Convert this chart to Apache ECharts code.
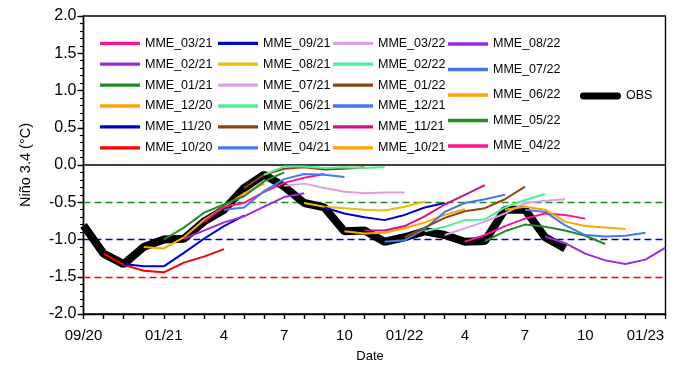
<!DOCTYPE html>
<html>
<head>
<meta charset="utf-8">
<script src="https://cdn.jsdelivr.net/npm/echarts@6/dist/echarts.min.js"></script>
<style>html,body{margin:0;padding:0;background:#fff}#c{width:700px;height:368px}</style>
</head>
<body>
<div id="c"></div>
<script>
// Month categories (x axis) and tick labels
const months = ['09/20','10/20','11/20','12/20','01/21','02/21','03/21','04/21','05/21','06/21','07/21','08/21','09/21','10/21','11/21','12/21','01/22','02/22','03/22','04/22','05/22','06/22','07/22','08/22','09/22','10/22','11/22','12/22','01/23','02/23'];
const tickLabels = {'09/20':'09/20','01/21':'01/21','04/21':'4','07/21':'7','10/21':'10','01/22':'01/22','04/22':'4','07/22':'7','10/22':'10','01/23':'01/23'};

// Observations (start 09/20)
const obs = [-0.81,-1.19,-1.33,-1.10,-1.00,-0.99,-0.76,-0.60,-0.31,-0.13,-0.29,-0.51,-0.57,-0.89,-0.88,-1.03,-0.97,-0.89,-0.94,-1.03,-1.02,-0.60,-0.60,-0.97,-1.12];

// MME forecasts, each starting at its initial month
const m1020 = [-1.19,-1.34,-1.42,-1.44,-1.31,-1.23,-1.13];
const m1120 = [-1.33,-1.36,-1.36,-1.18,-0.99,-0.82,-0.68];
const m1220 = [-1.10,-1.12,-0.97,-0.74,-0.56,-0.38,-0.25];
const m0121 = [-1.00,-0.84,-0.64,-0.53,-0.42,-0.22,-0.10];
const m0221 = [-0.99,-0.88,-0.77,-0.69,-0.56,-0.43,-0.38];
const m0321 = [-0.76,-0.56,-0.51,-0.36,-0.24,-0.17,-0.12];
const m0421 = [-0.60,-0.57,-0.35,-0.19,-0.12,-0.13,-0.16];
const m0521 = [-0.31,-0.13,-0.05,-0.03,-0.06,-0.05,-0.03];
const m0621 = [-0.13,-0.02,-0.02,-0.04,-0.03,-0.04,-0.03];
const m0721 = [-0.28,-0.25,-0.31,-0.36,-0.38,-0.37,-0.37];
const m0821 = [-0.51,-0.56,-0.58,-0.60,-0.61,-0.56,-0.49];
const m0921 = [-0.57,-0.65,-0.70,-0.74,-0.67,-0.57,-0.51];
const m1021 = [-0.89,-0.92,-0.91,-0.85,-0.77,-0.67,-0.59];
const m1121 = [-0.88,-0.88,-0.82,-0.69,-0.53,-0.40,-0.27];
const m1221 = [-1.03,-1.01,-0.86,-0.63,-0.51,-0.46,-0.40];
const m0122 = [-0.97,-0.84,-0.71,-0.62,-0.58,-0.46,-0.29];
const m0222 = [-0.89,-0.83,-0.74,-0.73,-0.57,-0.47,-0.39];
const m0322 = [-0.94,-0.85,-0.76,-0.65,-0.51,-0.48,-0.46];
const m0422 = [-1.03,-0.94,-0.82,-0.72,-0.65,-0.67,-0.72];
const m0522 = [-1.02,-0.89,-0.80,-0.83,-0.88,-0.95,-1.06];
const m0622 = [-0.60,-0.56,-0.60,-0.76,-0.82,-0.84,-0.86];
const m0722 = [-0.60,-0.63,-0.81,-0.94,-0.96,-0.95,-0.91];
const m0822 = [-0.96,-1.05,-1.19,-1.28,-1.33,-1.27,-1.11];

const mmeNames  = ['MME_10/20','MME_11/20','MME_12/20','MME_01/21','MME_02/21','MME_03/21','MME_04/21','MME_05/21','MME_06/21','MME_07/21','MME_08/21','MME_09/21','MME_10/21','MME_11/21','MME_12/21','MME_01/22','MME_02/22','MME_03/22','MME_04/22','MME_05/22','MME_06/22','MME_07/22','MME_08/22'];
const mmeStart  = ['10/20','11/20','12/20','01/21','02/21','03/21','04/21','05/21','06/21','07/21','08/21','09/21','10/21','11/21','12/21','01/22','02/22','03/22','04/22','05/22','06/22','07/22','08/22'];
const mmeValues = [m1020,m1120,m1220,m0121,m0221,m0321,m0421,m0521,m0621,m0721,m0821,m0921,m1021,m1121,m1221,m0122,m0222,m0322,m0422,m0522,m0622,m0722,m0822];
const mmeColors = ['#FF0000','#0000CD','#FFA500','#228B22','#9A2BE0','#FF1493','#4878F0','#8B4513','#4EEE94','#DDA0DD','#E8C000','#0000CD','#FFA500','#C71585','#4878F0','#8B4513','#4EEE94','#DDA0DD','#FF1493','#228B22','#FFA500','#4878F0','#9A2BE0'];

const legendCols = [
  ['MME_03/21','MME_02/21','MME_01/21','MME_12/20','MME_11/20','MME_10/20'],
  ['MME_09/21','MME_08/21','MME_07/21','MME_06/21','MME_05/21','MME_04/21'],
  ['MME_03/22','MME_02/22','MME_01/22','MME_12/21','MME_11/21','MME_10/21'],
  ['MME_08/22','MME_07/22','MME_06/22','MME_05/22','MME_04/22']
];

const FONT = 'Liberation Sans, Arial, Helvetica, sans-serif';

function toPairs(startMonth, vals) {
  const s = months.indexOf(startMonth);
  return vals.map((v, k) => [months[s + k], v]);
}

const series = [];
series.push({
  name: 'ref', type: 'line', data: [], silent: true, z: 1,
  markLine: {
    silent: true, symbol: 'none', z: 1, label: {show: false}, animation: false,
    data: [
      {yAxis: 0, lineStyle: {color: '#000', width: 1.6, type: 'solid'}},
      {yAxis: -0.5, lineStyle: {color: '#228B22', width: 1.4, type: [7, 4]}},
      {yAxis: -1.0, lineStyle: {color: '#0000CD', width: 1.4, type: [7, 4]}},
      {yAxis: -1.5, lineStyle: {color: '#FF0000', width: 1.4, type: [7, 4]}}
    ]
  }
});
series.push({
  name: 'OBS', type: 'line', showSymbol: false, z: 2,
  data: toPairs('09/20', obs),
  color: '#000',
  lineStyle: {color: '#000', width: 8},
  itemStyle: {color: '#000'}
});
mmeNames.forEach((n, k) => {
  series.push({
    name: n, type: 'line', showSymbol: false, z: 3,
    data: toPairs(mmeStart[k], mmeValues[k]),
    color: mmeColors[k],
    lineStyle: {color: mmeColors[k], width: 2},
    itemStyle: {color: mmeColors[k]}
  });
});

const legendLefts = [100, 218, 333, 448];
const legendTops = [36.3, 36.3, 36.3, 37];
const legendGaps = [6.9, 6.9, 6.9, 11.5];
const legends = legendCols.map((col, k) => ({
  data: col, orient: 'vertical', left: legendLefts[k], top: legendTops[k],
  padding: 0, itemGap: legendGaps[k], itemWidth: 40, itemHeight: 3.3, icon: 'rect',
  selectedMode: false,
  textStyle: {fontFamily: FONT, fontSize: 12.5, color: '#000', lineHeight: 14}
}));
legends.push({
  data: [{name: 'OBS', icon: 'path://M3.5,0 L38.5,0 A3.5,3.5 0 0 1 38.5,7 L3.5,7 A3.5,3.5 0 0 1 3.5,0 Z'}],
  orient: 'vertical', left: 580, top: 89, padding: 0, itemWidth: 41, itemHeight: 7,
  selectedMode: false,
  textStyle: {fontFamily: FONT, fontSize: 12.5, color: '#000', lineHeight: 14}
});

const option = {
  animation: false,
  backgroundColor: '#fff',
  textStyle: {fontFamily: FONT},
  grid: {left: 83.5, right: 34.5, top: 16, bottom: 54, show: true, borderColor: '#000', borderWidth: 1.4, backgroundColor: 'transparent'},
  legend: legends,
  xAxis: {
    type: 'category', data: months, boundaryGap: false,
    name: 'Date', nameLocation: 'middle', nameGap: 36,
    nameTextStyle: {fontFamily: FONT, fontSize: 13, color: '#000', padding: [0, 9, 0, 0]},
    axisLine: {show: true, onZero: false, lineStyle: {color: '#000', width: 1.4}},
    axisTick: {show: true, interval: 0, inside: false, length: 5, lineStyle: {color: '#000', width: 1.4}},
    axisLabel: {interval: 0, margin: 14, fontFamily: FONT, fontSize: 15, color: '#000',
      formatter: v => tickLabels[v] || ''},
    splitLine: {show: false}
  },
  yAxis: [{
    type: 'value', min: -2, max: 2, interval: 0.5,
    name: 'Niño 3.4 (°C)', nameLocation: 'middle', nameGap: 50,
    nameTextStyle: {fontFamily: FONT, fontSize: 14.5, color: '#000'},
    axisLine: {show: true, onZero: false, lineStyle: {color: '#000', width: 1.4}},
    axisTick: {show: true, inside: false, length: 6, lineStyle: {color: '#000', width: 1.4}},
    axisLabel: {margin: 7, fontFamily: FONT, fontSize: 16, color: '#000', formatter: v => v.toFixed(1)},
    splitLine: {show: false}
  }, {
    // minor ticks every 0.1
    type: 'value', min: -2, max: 2, interval: 0.1, position: 'left',
    axisLine: {show: false, onZero: false},
    axisTick: {show: true, inside: false, length: 3.5, lineStyle: {color: '#000', width: 1.1}},
    axisLabel: {show: false},
    splitLine: {show: false}
  }],
  series: series
};

const chart = echarts.init(document.getElementById('c'), null, {renderer: 'canvas'});
chart.setOption(option);
</script>
</body>
</html>
